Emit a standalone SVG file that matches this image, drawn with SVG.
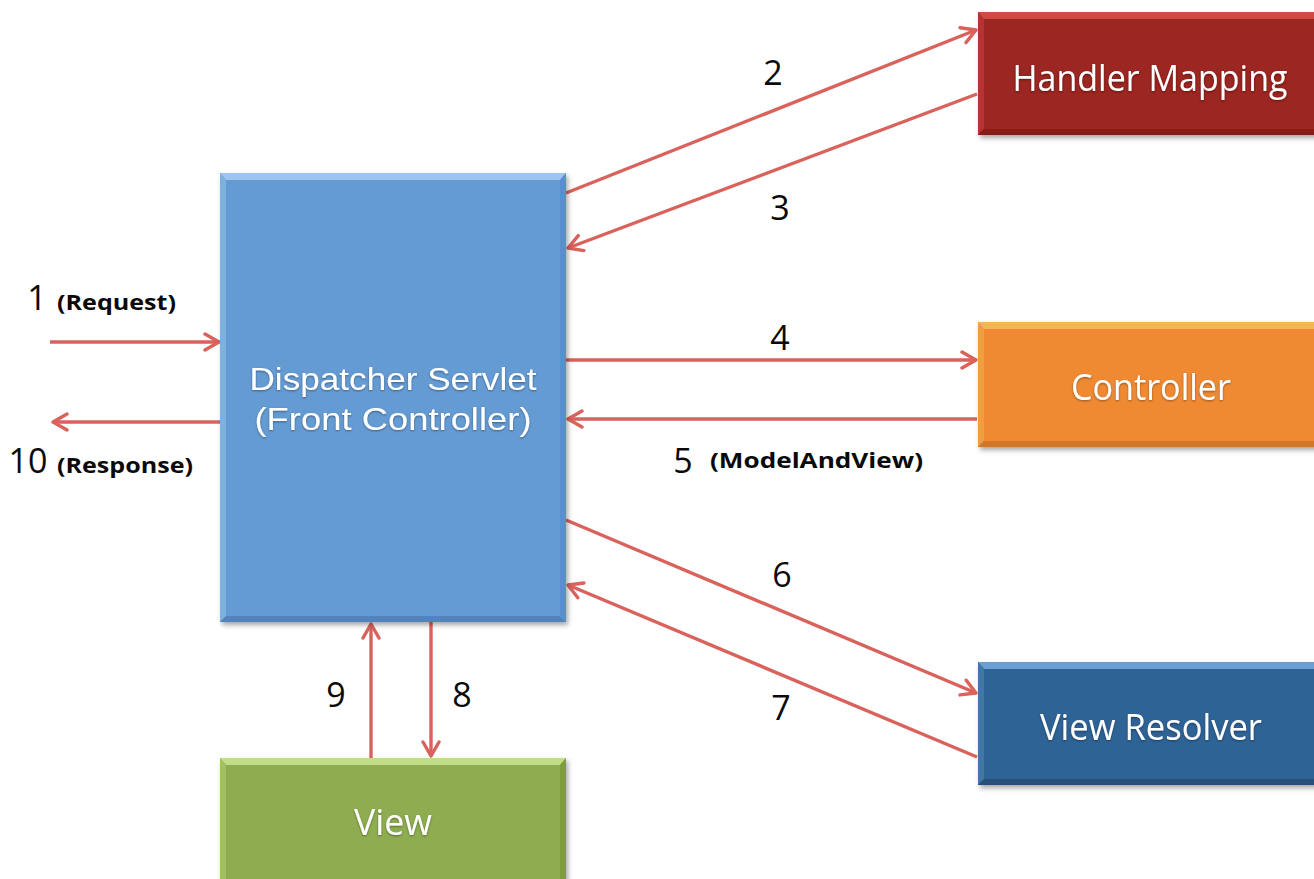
<svg xmlns="http://www.w3.org/2000/svg" width="1314" height="879" viewBox="0 0 1314 879">
<style>
.lbl{font-family:"Open Sans","Liberation Sans",sans-serif;fill:#0a0a0a;}
.num{font-size:34px;font-weight:500;}
.sub{font-size:21px;font-weight:700;}
.nt{font-family:"Open Sans","Liberation Sans",sans-serif;fill:#fff;font-size:36px;font-weight:500;text-anchor:middle;filter:url(#ts);}
.nt2{font-family:"Liberation Sans","Open Sans",sans-serif;fill:#fff;font-size:32px;text-anchor:middle;filter:url(#ts);}
.conn{stroke:#d9625c;stroke-width:3.4;fill:none;marker-end:url(#ah);}
</style>
<defs>
<filter id="sh" x="-10%" y="-10%" width="130%" height="130%">
<feDropShadow dx="2" dy="3" stdDeviation="2.5" flood-color="#000" flood-opacity="0.35"/>
</filter>
<filter id="ts" x="-5%" y="-20%" width="110%" height="140%">
<feDropShadow dx="0" dy="1" stdDeviation="1" flood-color="#000" flood-opacity="0.4"/>
</filter>
<marker id="ah" viewBox="0 0 20 20" refX="18" refY="10" markerWidth="20" markerHeight="20" markerUnits="userSpaceOnUse" orient="auto">
<path d="M4,2 L18,10 L4,18" fill="none" stroke="#d9625c" stroke-width="3.4" stroke-linecap="round" stroke-linejoin="round"/>
</marker>
</defs>
<rect width="1314" height="879" fill="#fff"/>

<g id="connectors">
<line class="conn" x1="566" y1="193" x2="976" y2="30"/>
<line class="conn" x1="977" y1="94" x2="568" y2="248"/>
<line class="conn" x1="566" y1="360" x2="976" y2="360"/>
<line class="conn" x1="977" y1="419" x2="568" y2="419"/>
<line class="conn" x1="566" y1="520" x2="976" y2="693"/>
<line class="conn" x1="977" y1="757" x2="568" y2="585"/>
<line class="conn" x1="50" y1="342" x2="219" y2="342"/>
<line class="conn" x1="220" y1="422" x2="53" y2="422"/>
<line class="conn" x1="371" y1="758" x2="371" y2="624"/>
<line class="conn" x1="431" y1="622" x2="431" y2="756"/>
</g>

<g id="labels">
<text class="lbl num" x="773" y="85" text-anchor="middle">2</text>
<text class="lbl num" x="780" y="220" text-anchor="middle">3</text>
<text class="lbl num" x="780" y="350" text-anchor="middle">4</text>
<text class="lbl num" x="683" y="473" text-anchor="middle">5</text>
<text class="lbl sub" x="710" y="468" textLength="213" lengthAdjust="spacingAndGlyphs">(ModelAndView)</text>
<text class="lbl num" x="782" y="587" text-anchor="middle">6</text>
<text class="lbl num" x="781" y="720" text-anchor="middle">7</text>
<text class="lbl num" x="336" y="707" text-anchor="middle">9</text>
<text class="lbl num" x="462" y="707" text-anchor="middle">8</text>
<text class="lbl num" x="37" y="310" text-anchor="middle">1</text>
<text class="lbl sub" x="57" y="310" textLength="119" lengthAdjust="spacingAndGlyphs">(Request)</text>
<text class="lbl num" x="28" y="473" text-anchor="middle">10</text>
<text class="lbl sub" x="57" y="473" textLength="136" lengthAdjust="spacingAndGlyphs">(Response)</text>
</g>

<g id="dispatcher" filter="url(#sh)">
<rect x="220" y="173" width="346" height="449" fill="#659bd3"/>
<polygon points="220,173 566,173 560,180 226,180" fill="#9cc6f0"/>
<polygon points="220,173 226,180 226,616 220,622" fill="#7fb0e2"/>
<polygon points="220,622 226,616 560,616 566,622" fill="#5283bb"/>
<polygon points="566,173 560,180 560,616 566,622" fill="#5a8fc8"/>
<text class="nt2" x="393" y="390" textLength="287" lengthAdjust="spacingAndGlyphs">Dispatcher Servlet</text>
<text class="nt2" x="393" y="430" textLength="277" lengthAdjust="spacingAndGlyphs">(Front Controller)</text>
</g>

<g id="handler-mapping" filter="url(#sh)">
<rect x="978" y="12" width="345" height="123" fill="#9c2520"/>
<polygon points="978,12 1323,12 1323,19 984,19" fill="#cf4a44"/>
<polygon points="978,12 984,19 984,129 978,135" fill="#b13530"/>
<polygon points="978,135 984,129 1323,129 1323,135" fill="#861d19"/>
<text class="nt" x="1150" y="91" textLength="275" lengthAdjust="spacingAndGlyphs">Handler Mapping</text>
</g>

<g id="controller" filter="url(#sh)">
<rect x="978" y="322" width="345" height="125" fill="#ef8a33"/>
<polygon points="978,322 1323,322 1323,329 984,329" fill="#f8b458"/>
<polygon points="978,322 984,329 984,441 978,447" fill="#f39c45"/>
<polygon points="978,447 984,441 1323,441 1323,447" fill="#d2762a"/>
<text class="nt" x="1151" y="400" textLength="160" lengthAdjust="spacingAndGlyphs">Controller</text>
</g>

<g id="view-resolver" filter="url(#sh)">
<rect x="978" y="662" width="345" height="123" fill="#2f6396"/>
<polygon points="978,662 1323,662 1323,669 984,669" fill="#6a9fd4"/>
<polygon points="978,662 984,669 984,779 978,785" fill="#3f76ad"/>
<polygon points="978,785 984,779 1323,779 1323,785" fill="#264f7a"/>
<text class="nt" x="1151" y="740" textLength="222" lengthAdjust="spacingAndGlyphs">View Resolver</text>
</g>

<g id="view" filter="url(#sh)">
<rect x="220" y="758" width="346" height="130" fill="#8ead51"/>
<polygon points="220,758 566,758 560,765 226,765" fill="#c0dd8a"/>
<polygon points="220,758 226,765 226,888 220,888" fill="#a0c062"/>
<polygon points="566,758 560,765 560,888 566,888" fill="#7f9c45"/>
<text class="nt" x="393" y="835" textLength="78" lengthAdjust="spacingAndGlyphs">View</text>
</g>
</svg>
